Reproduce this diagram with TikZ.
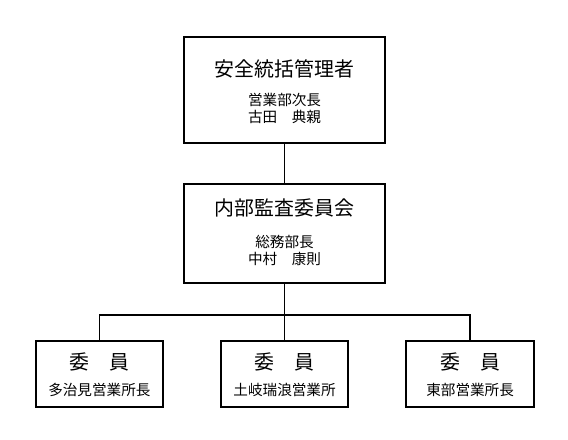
\documentclass[tikz,border=0pt]{standalone}
\usepackage{fontspec}
\setmainfont{Noto Sans CJK JP}
\usepackage{tikz}
\usetikzlibrary{positioning}

\tikzset{
    headbox/.style={draw, line width=1.5pt, minimum width=5.32cm, align=center, inner sep=0pt},
    memberbox/.style={draw, line width=1.5pt, minimum width=3.38cm, minimum height=1.75cm, align=center, inner sep=0pt},
    title/.style={font=\fontsize{15}{18}\selectfont},
    sub/.style={font=\fontsize{11}{12.75}\selectfont},
    link/.style={line width=1.1pt}
}

\begin{document}
\begin{tikzpicture}[scale=1]
        \useasboundingbox (0,0) rectangle (15.03,11.64);
        % boxes
        \node[headbox, minimum height=2.8cm] (chief) at (7.53,9.26) {};
        \node[headbox, minimum height=2.62cm] (audit) at (7.53,5.46) {};
        \node[memberbox] (tajimi) at (2.63,1.75) {};
        \node[memberbox] (toki) at (7.53,1.75) {};
        \node[memberbox] (tobu) at (12.44,1.75) {};
        % texts
        \node[title] (chieft) at (7.53,9.82) {安全統括管理者};
        \node[sub, align=center] (chiefs) at (7.53,8.77) {営業部次長\\古田　典親};
        \node[title] (auditt) at (7.53,6.13) {内部監査委員会};
        \node[sub, align=center] (audits) at (7.53,5.0) {総務部長\\中村　康則};
        \foreach \n/\x/\txt in {tajimi/2.63/多治見営業所長, toki/7.53/土岐瑞浪営業所, tobu/12.44/東部営業所長}{
            \node[title] (\n t) at (\x,2.06) {委　員};
            \node[sub] (\n s) at (\x,1.32) {\txt};
        }
        % connectors
        \coordinate (bus) at (7.53,3.31);
        \draw[link] (chief) -- (audit);
        \draw[link] (audit) -- (toki);
        \draw[link] (tajimi.north) |- (bus) -| (tobu.north);
    \end{tikzpicture}
\end{document}
